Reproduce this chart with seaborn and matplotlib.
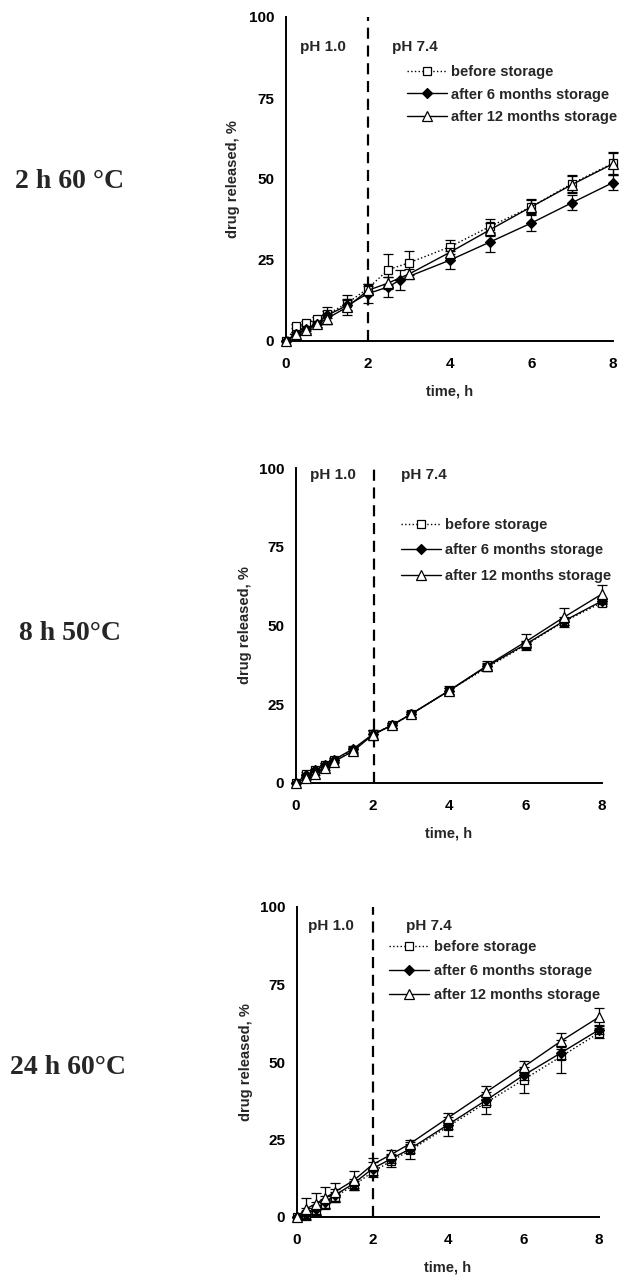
import matplotlib
matplotlib.use('Agg')
import matplotlib.pyplot as plt
import seaborn as sns
import pandas as pd

sns.set_theme(style='white')
plt.rcParams['font.family'] = ['Liberation Sans', 'DejaVu Sans']
plt.rcParams['font.weight'] = 'bold'

# ---------------- data ----------------
series_labels = ['before storage', 'after 6 months storage', 'after 12 months storage']
panel_titles = ['2 h 60 °C', '8 h 50°C', '24 h 60°C']
x_ticks = [0, 2, 4, 6, 8]
y_ticks = [0, 25, 50, 75, 100]

time_std = [0, 0.25, 0.5, 0.75, 1, 1.5, 2, 2.5, 3, 4, 5, 6, 7, 8]
time_p1_6m = [0, 0.25, 0.5, 0.75, 1, 1.5, 2, 2.5, 2.8, 4, 5, 6, 7, 8]

# panel 1: 2 h 60 °C
p1_before = [0, 4.6, 5.6, 6.7, 8.2, 11.7, 16.2, 22.0, 24.1, 29.0, 35.4, 41.4, 48.6, 54.9]
p1_before_err = [0, 0.6, 0.6, 0.8, 1.0, 2.4, 1.5, 4.8, 3.6, 2.3, 2.2, 2.3, 2.5, 3.4]
p1_6m = [0, 2.3, 3.8, 5.3, 7.9, 11.0, 14.6, 16.7, 18.9, 24.9, 30.6, 36.4, 42.7, 48.9]
p1_6m_err = [0, 0.6, 0.8, 1.0, 2.5, 1.5, 3.0, 3.0, 3.1, 2.8, 3.0, 2.4, 2.3, 2.2]
p1_12m = [0, 2.3, 3.3, 5.3, 6.9, 10.5, 15.6, 17.9, 20.6, 27.3, 34.4, 41.4, 48.3, 54.7]
p1_12m_err = [0, 0.6, 0.8, 1.0, 1.5, 2.5, 1.5, 2.0, 1.5, 1.5, 2.0, 2.0, 2.6, 3.4]

# panel 2: 8 h 50 °C
p2_before = [0, 3.0, 4.0, 5.6, 7.4, 10.5, 15.4, 18.3, 21.8, 29.3, 36.7, 43.8, 51.2, 57.3]
p2_before_err = [0, 0.4, 0.5, 0.6, 0.6, 1.0, 1.0, 0.8, 0.8, 1.0, 1.0, 1.0, 1.0, 1.0]
p2_6m = [0, 2.4, 4.0, 5.6, 7.4, 10.9, 15.4, 18.3, 21.8, 29.3, 37.1, 44.0, 51.4, 57.8]
p2_6m_err = [0, 0.4, 0.5, 0.6, 0.6, 1.0, 1.5, 0.8, 0.8, 1.0, 1.0, 1.0, 1.2, 1.0]
p2_12m = [0, 1.5, 3.0, 4.7, 6.8, 10.2, 15.2, 18.3, 21.8, 29.3, 37.3, 44.8, 52.6, 60.0]
p2_12m_err = [0, 0.4, 0.5, 0.6, 0.6, 1.0, 1.5, 0.8, 1.0, 1.5, 1.5, 2.5, 3.0, 3.0]

# panel 3: 24 h 60 °C
p3_before = [0, 0.9, 2.4, 4.3, 6.5, 10.2, 14.5, 18.1, 21.5, 29.2, 36.8, 44.3, 51.8, 59.4]
p3_before_err = [0, 1.0, 1.5, 1.5, 1.5, 1.5, 1.5, 2.0, 2.7, 3.2, 3.5, 4.2, 5.2, 1.5]
p3_6m = [0, 1.0, 2.7, 4.8, 7.0, 10.8, 15.6, 18.8, 22.0, 29.8, 37.6, 45.7, 53.0, 60.4]
p3_6m_err = [0, 2.0, 2.0, 2.0, 2.0, 1.5, 2.0, 1.5, 1.5, 1.5, 1.5, 1.5, 2.0, 1.5]
p3_12m = [0, 2.7, 4.3, 6.2, 8.1, 11.8, 16.9, 20.2, 23.7, 32.0, 40.2, 48.4, 56.8, 64.5]
p3_12m_err = [0, 3.5, 3.5, 3.5, 3.0, 3.0, 2.0, 1.5, 1.2, 1.5, 2.0, 2.0, 2.5, 2.8]

panels = [
    dict(series=[(time_std, p1_before, p1_before_err), (time_p1_6m, p1_6m, p1_6m_err), (time_std, p1_12m, p1_12m_err)]),
    dict(series=[(time_std, p2_before, p2_before_err), (time_std, p2_6m, p2_6m_err), (time_std, p2_12m, p2_12m_err)]),
    dict(series=[(time_std, p3_before, p3_before_err), (time_std, p3_6m, p3_6m_err), (time_std, p3_12m, p3_12m_err)]),
]

# ---------------- layout / style ----------------
W, H = 629, 1276
fig = plt.figure(figsize=(W / 100, H / 100), dpi=100)

axes_px = [(286, 17, 613, 341), (296, 468, 602, 783), (297, 907, 599, 1217)]
legend_anchor = [(0.37, 0.853), (0.343, 0.841), (0.305, 0.894)]
legend_spacing = [0.61, 0.78, 0.68]
ph_pos = [((0.34, 90.8), (2.6, 90.8)), ((0.37, 97.9), (2.74, 97.9)), ((0.29, 93.8), (2.88, 93.8))]
vline_x = [2.0, 2.04, 2.0]
ylabel_pad = [6.5, 5, 5]
title_px = [(70, 182), (70, 633), (68, 1067)]

styles = [
    dict(ls=':', marker='s', mfc='white', ms=6, lw=1.0),
    dict(ls='-', marker='D', mfc='black', ms=5, lw=1.0),
    dict(ls='-', marker='^', mfc='white', ms=7, lw=1.0),
]

for i, panel in enumerate(panels):
    l, t, r, b = axes_px[i]
    ax = fig.add_axes([l / W, 1 - b / H, (r - l) / W, (b - t) / H])
    for j, (xs, ys, es) in enumerate(panel['series']):
        st = styles[j]
        df = pd.DataFrame({'time': xs, 'released': ys})
        ax.errorbar(xs, ys, yerr=es, fmt='none', ecolor='black', elinewidth=0.9,
                    capsize=3.5, capthick=0.9, zorder=2 + j, clip_on=False)
        sns.lineplot(data=df, x='time', y='released', ax=ax, color='black',
                     linestyle=st['ls'], linewidth=st['lw'], marker=st['marker'],
                     markersize=st['ms'], markerfacecolor=st['mfc'],
                     markeredgecolor='black', markeredgewidth=0.9,
                     label=series_labels[j], zorder=3 + j, clip_on=False)
    ax.plot([vline_x[i], vline_x[i]], [0, 100], color='black', lw=1.6,
            linestyle=(0, (5, 3)), zorder=1, clip_on=False)
    ax.set_xlim(0, 8)
    ax.set_ylim(0, 100)
    ax.set_xticks(x_ticks)
    ax.set_yticks(y_ticks)
    for s in ['top', 'right']:
        ax.spines[s].set_visible(False)
    for s in ['left', 'bottom']:
        ax.spines[s].set_color('black')
        ax.spines[s].set_linewidth(1.4)
    ax.tick_params(axis='both', direction='out', length=3.5, width=1.2, colors='black',
                   labelsize=11)
    ax.tick_params(axis='x', pad=8)
    ax.tick_params(axis='y', pad=5)
    for lab in ax.get_xticklabels() + ax.get_yticklabels():
        lab.set_fontweight('bold')
    ax.set_xlabel('time, h', fontsize=10.5, fontweight='bold', labelpad=10)
    ax.set_ylabel('drug released, %', fontsize=10.5, fontweight='bold', labelpad=ylabel_pad[i])
    ax.set_facecolor('white')
    (x1, y1), (x2, y2) = ph_pos[i]
    ax.text(x1, y1, 'pH 1.0', fontsize=11, fontweight='bold', va='center', ha='left')
    ax.text(x2, y2, 'pH 7.4', fontsize=11, fontweight='bold', va='center', ha='left')
    leg = ax.legend(loc='upper left', bbox_to_anchor=legend_anchor[i], frameon=False,
                    fontsize=10.5, handlelength=2.75, handletextpad=0.3,
                    labelspacing=legend_spacing[i], borderaxespad=0, borderpad=0)
    for txt in leg.get_texts():
        txt.set_fontweight('bold')
    tx, ty = title_px[i]
    fig.text(tx / W, 1 - ty / H, panel_titles[i], fontsize=20, fontweight='bold',
             family=['Liberation Serif', 'DejaVu Serif'], ha='center', va='center')

fig.savefig('out.png', dpi=100, facecolor='white')
